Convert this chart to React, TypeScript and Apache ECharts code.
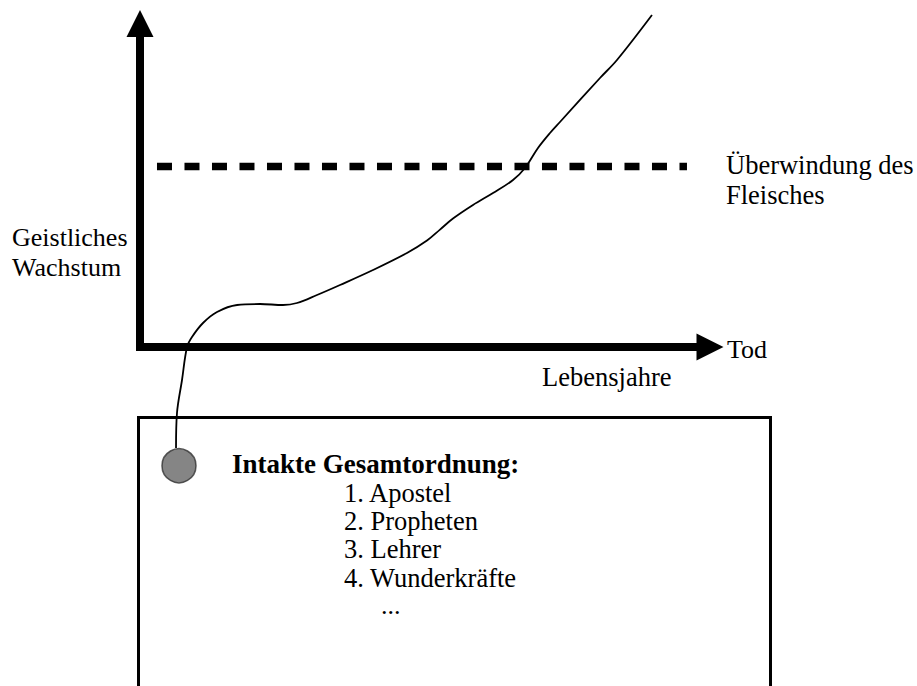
import React, { useEffect, useRef } from "react";
import * as echarts from "echarts";

// Curve "Geistliches Wachstum" over "Lebensjahre" (axis units 0..100)
const curveX = [6.32, 6.49, 7.37, 8.25, 9.12, 11.05, 13.51, 17.02, 21.05, 25.09, 27.54, 31.05, 35.09, 40.88, 46.84, 50.35, 52.63, 54.91, 58.42, 61.93, 65.44, 67.54, 69.82, 71.93, 73.68, 80.7, 83.68, 89.82];
const curveY = [-31.22, -20.4, -10.2, 0, 3.09, 7.42, 10.82, 12.98, 13.29, 12.98, 13.6, 16.07, 19.17, 23.8, 29.06, 32.9, 36.3, 39.7, 43.89, 47.6, 51.62, 55.33, 61.51, 66.15, 69.55, 83.15, 88.72, 102.63];

// Threshold "Überwindung des Fleisches"
const thresholdX = [2.98, 95.96];
const thresholdY = [55.8, 55.8];

// Start point (circle)
const startPoint = [6.84, -36.7];

const yAxisLabel = ["Geistliches", "Wachstum"];
const thresholdLabel = ["Überwindung des", "Fleisches"];
const xAxisEndLabel = "Tod";
const xAxisLabel = "Lebensjahre";
const boxTitle = "Intakte Gesamtordnung:";
const boxItems = ["1. Apostel", "2. Propheten", "3. Lehrer", "4. Wunderkräfte"];
const boxEllipsis = "...";

const FONT = '"Liberation Serif", "Times New Roman", serif';

export default function App() {
  const ref = useRef<HTMLDivElement>(null);
  useEffect(() => {
    if (!ref.current) return;
    const chart = echarts.init(ref.current, undefined, { renderer: "svg" });
    const txt = (text: string, x: number, center: number, size = 26, bold = false) => ({
      type: "text",
      x,
      y: center,
      style: {
        text,
        fontSize: size,
        fontFamily: FONT,
        fontWeight: bold ? "bold" : "normal",
        fill: "#000",
        align: "left",
        verticalAlign: "middle",
      },
    });
    const itemCenters = [493, 521, 549, 577.5];
    const axisCommon = {
      type: "value",
      min: 0,
      max: 100,
      axisLabel: { show: false },
      axisTick: { show: false },
      splitLine: { show: false },
      axisLine: {
        show: true,
        onZero: false,
        symbol: ["none", "triangle"],
        symbolSize: [27, 27],
        lineStyle: { color: "#000", width: 8, cap: "square" },
      },
    };
    chart.setOption({
      animation: false,
      backgroundColor: "#fff",
      grid: { left: 140, right: 207, top: 23.5, bottom: 339, containLabel: false },
      xAxis: { ...axisCommon },
      yAxis: { ...axisCommon },
      series: [
        {
          type: "line",
          data: thresholdX.map((x, i) => [x, thresholdY[i]]),
          showSymbol: false,
          clip: false,
          lineStyle: { color: "#000", width: 7.5, type: [15, 12.5], cap: "butt" },
          z: 2,
        },
        {
          type: "line",
          data: curveX.map((x, i) => [x, curveY[i]]),
          smooth: 0.35,
          showSymbol: false,
          clip: false,
          lineStyle: { color: "#000", width: 1.8 },
          z: 3,
        },
        {
          type: "scatter",
          data: [startPoint],
          symbol: "circle",
          symbolSize: 34,
          clip: false,
          itemStyle: { color: "#666666", borderColor: "#333", borderWidth: 1.5 },
          z: 4,
        },
      ],
      graphic: [
        {
          type: "polyline",
          shape: { points: [[138.5, 700], [138.5, 417.5], [770.5, 417.5], [770.5, 700]] },
          style: { stroke: "#000", lineWidth: 3, fill: null },
          z: 1,
        },
        txt(yAxisLabel[0], 12, 237),
        txt(yAxisLabel[1], 12, 267),
        txt(thresholdLabel[0], 726, 164.5, 26.5),
        txt(thresholdLabel[1], 726, 194.5, 26.5),
        txt(xAxisEndLabel, 727, 349),
        txt(xAxisLabel, 542, 377, 26.5),
        txt(boxTitle, 232, 464, 27, true),
        ...boxItems.map((t, i) => txt(t, 344, itemCenters[i], 26.5)),
        txt(boxEllipsis, 381, 605),
      ],
    });
    return () => chart.dispose();
  }, []);
  return (
    <div
      ref={ref}
      style={{ position: "absolute", left: 0, top: 0, width: 917, height: 686 }}
    />
  );
}
